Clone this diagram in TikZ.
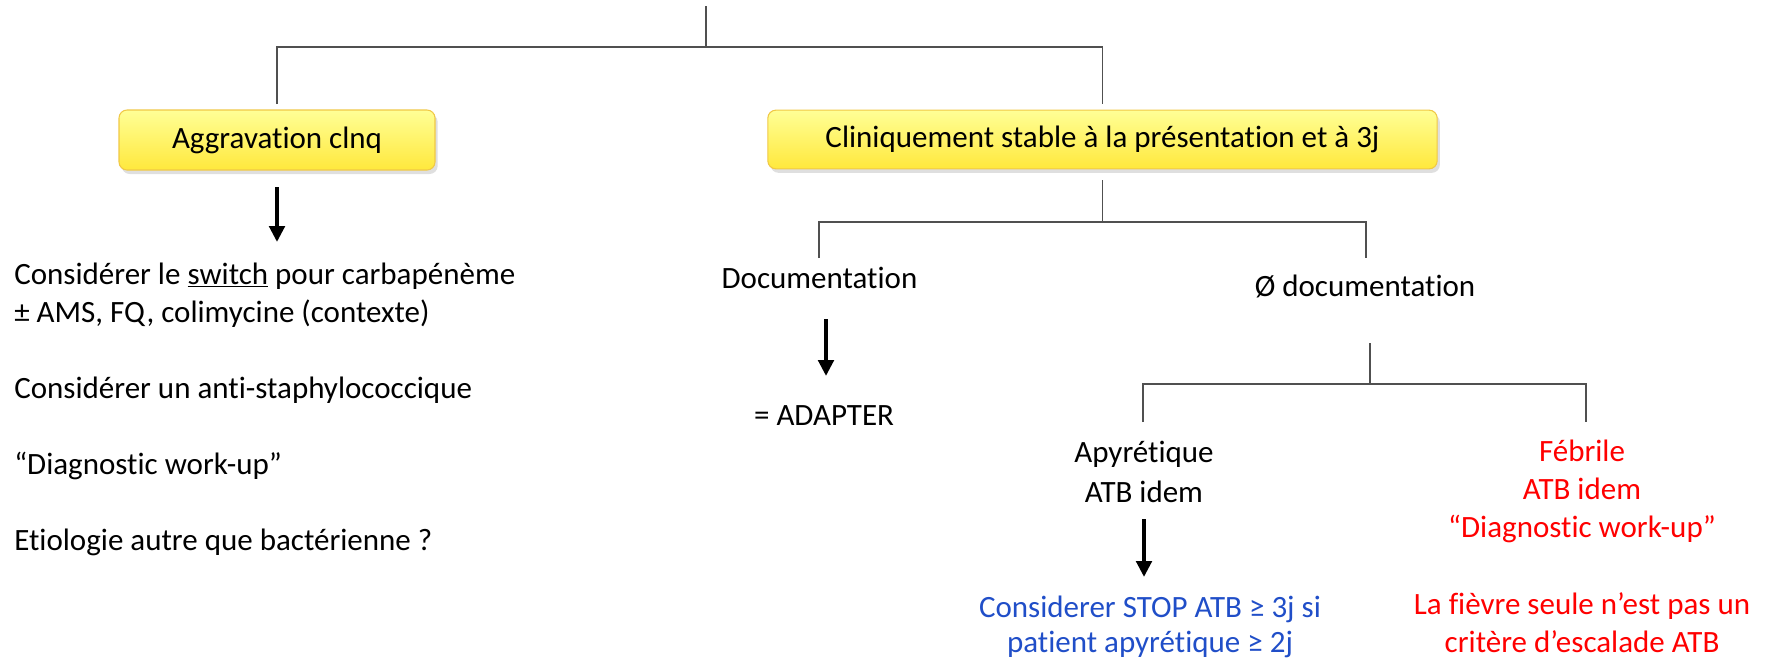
\documentclass[tikz,border=0pt]{standalone}
\usepackage{fontspec}
\setmainfont[Ligatures = {TeX, NoCommon}]{Carlito}
\usetikzlibrary{
    arrows.meta, % Thick arrows between the steps.
    shadows      % Drop shadow under the yellow boxes.
}

\definecolor{boxtop}{RGB}{255,255,150}
\definecolor{boxbottom}{RGB}{255,232,60}
\definecolor{boxline}{RGB}{240,200,70}
\definecolor{treegray}{RGB}{80,80,80}
\definecolor{stopblue}{RGB}{32,78,200}

\begin{document}
\begin{tikzpicture}[%
        x = 0.75pt,
        y = -0.75pt,
        every node/.style = {inner sep = 0pt, font = \fontsize{23.25}{28.5}\selectfont},
        yellowbox/.style = {
            draw = boxline,
            line width = 0.8pt,
            rounded corners = 6pt,
            top color = boxtop,
            bottom color = boxbottom,
            drop shadow = {shadow xshift = 2pt, shadow yshift = -3pt, opacity = 0.25}
        },
        branch/.style = {draw = treegray, line width = 1.2pt},
        bigarrow/.style = {line width = 3.5pt, -{Triangle[width = 11.5pt, length = 12pt]}}
    ]

        % Bounding box with the margins of the slide.
        \useasboundingbox (0,0) rectangle (1771,662);

        % Points where the tree lines start, meet and end.
        \coordinate (top) at (706,6);
        \coordinate (bus) at (706,47);
        \coordinate (fork2) at (1102.5,222);
        \coordinate (docend) at (819,258);
        \coordinate (nodocend) at (1366,258);
        \coordinate (nodocout) at (1370,343);
        \coordinate (fork3) at (1370,384);
        \coordinate (apyend) at (1143,422);
        \coordinate (febend) at (1586,422);

        % The two yellow boxes.
        \node[yellowbox, minimum width = 237pt, minimum height = 45pt] (agg) at (277,140) {Aggravation clnq};
        \node[yellowbox, minimum width = 502pt, minimum height = 44pt] (stab) at (1102.5,139.5)
            {Cliniquement stable à la présentation et à 3j};

        % Texts under the boxes (base is the last line of each node).
        \node[anchor = base west, align = left] (switch) at (14,550)
            {Considérer le \underline{switch} pour carbapénème\\
             ± AMS, FQ, colimycine (contexte)\\[28.5pt]
             Considérer un anti-staphylococcique\\[28.5pt]
             “Diagnostic work-up”\\[28.5pt]
             Etiologie autre que bactérienne ?};
        \node[anchor = base] (doc) at (819.5,288) {Documentation};
        \node[anchor = base] (nodoc) at (1365,296) {Ø documentation};
        \node[anchor = base] (adapt) at (824,425) {= ADAPTER};
        \node[anchor = base, align = center] (apy) at (1144,502) {Apyrétique\\[1.5pt] ATB idem};
        \node[anchor = base, align = center, text = stopblue,
              font = \fontsize{23.25}{26.25}\selectfont] (stop) at (1150,652)
            {Considerer STOP ATB ≥ 3j si\\ patient apyrétique ≥ 2j};
        \node[anchor = base, align = center, text = red] (feb) at (1582,537)
            {Fébrile\\ ATB idem\\ “Diagnostic work-up”};
        \node[anchor = base, align = center, text = red] (fever) at (1582,652)
            {La fièvre seule n’est pas un\\ critère d’escalade ATB};

        % Tree lines.
        \draw[branch] (top) -- (bus);
        \draw[branch] ([yshift = 4pt]agg.north) |- (bus) -| ([yshift = 4pt]stab.north);
        \draw[branch] ([yshift = -8pt]stab.south) -- (fork2);
        \draw[branch] (docend) |- (fork2) -| (nodocend);
        \draw[branch] (nodocout) -- (fork3);
        \draw[branch] (apyend) |- (fork3) -| (febend);

        % Thick arrows.
        \coordinate (aggout) at (277,187);
        \coordinate (switchin) at (277,242);
        \coordinate (docout) at (826,319);
        \coordinate (adaptin) at (826,376);
        \coordinate (apyout) at (1144,519);
        \coordinate (stopin) at (1144,577);
        \draw[bigarrow] (aggout) -- (switchin);
        \draw[bigarrow] (docout) -- (adaptin);
        \draw[bigarrow] (apyout) -- (stopin);
    \end{tikzpicture}
\end{document}
